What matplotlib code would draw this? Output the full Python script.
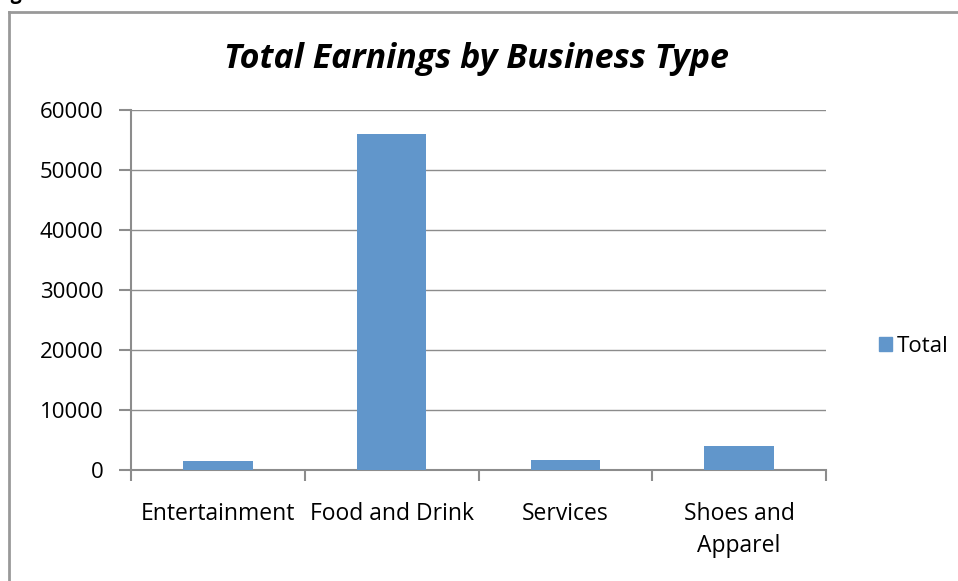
import matplotlib
matplotlib.use("Agg")
import matplotlib.pyplot as plt
from matplotlib.lines import Line2D
from matplotlib.patches import Patch

categories = ["Entertainment", "Food and Drink", "Services", "Shoes and\nApparel"]
totals = [1500, 56000, 1600, 4000]
y_ticks = [0, 10000, 20000, 30000, 40000, 50000, 60000]

BAR_COLOR = "#6196cb"
AXIS_GRAY = "#8c8c8c"
GRID_GRAY = "#8c8c8c"

plt.rcParams["font.family"] = ["Open Sans", "DejaVu Sans"]

fig = plt.figure(figsize=(9.58, 5.81), dpi=100)
ax = fig.add_axes([131 / 958, 111 / 581, 695 / 958, 360 / 581])

x = list(range(len(categories)))
ax.bar(x, totals, width=0.4, color=BAR_COLOR, zorder=3)

ax.set_xlim(-0.5, len(categories) - 0.5)
ax.set_ylim(0, 60000)
ax.set_yticks(y_ticks)
ax.set_yticklabels([str(v) for v in y_ticks], fontsize=16)
ax.yaxis.grid(True, color=GRID_GRAY, linewidth=1.0, zorder=0)

# category labels sit between boundary ticks
ax.set_xticks(x)
ax.set_xticklabels(categories, fontsize=16.5, linespacing=1.45, va="top")
ax.tick_params(axis="x", length=0, pad=23)
ax.set_xticks([i - 0.5 for i in range(len(categories) + 1)], minor=True)
ax.tick_params(axis="x", which="minor", length=8, width=1.5, color=AXIS_GRAY)
ax.tick_params(axis="y", length=9, width=1.5, color=AXIS_GRAY, pad=11)

for side in ("top", "right"):
    ax.spines[side].set_visible(False)
for side in ("left", "bottom"):
    ax.spines[side].set_color(AXIS_GRAY)
    ax.spines[side].set_linewidth(1.5)
ax.spines["left"].set_zorder(4)

fig.text(477 / 958, 1 - 59 / 581, "Total Earnings by Business Type",
         ha="center", va="center", fontsize=24.5, fontweight="bold",
         fontstyle="italic")

fig.legend(handles=[Patch(color=BAR_COLOR, label="Total")],
           loc="center left", bbox_to_anchor=(879 / 958, 1 - 346 / 581),
           frameon=False, fontsize=16, handlelength=0.6, handleheight=0.6,
           handletextpad=0.2, borderpad=0, borderaxespad=0)

# chart frame (top and left edges)
fig.add_artist(Line2D([9 / 958, 9 / 958], [0, 1 - 12 / 581],
                      transform=fig.transFigure, color="#999999", linewidth=2))
fig.add_artist(Line2D([9 / 958, 1], [1 - 12 / 581, 1 - 12 / 581],
                      transform=fig.transFigure, color="#999999", linewidth=2))

fig.text(-6 / 958, 1 + 1 / 581, "Figure 6:", ha="left", va="baseline",
         fontsize=14, fontweight="bold")

fig.savefig("out.png", dpi=100)
